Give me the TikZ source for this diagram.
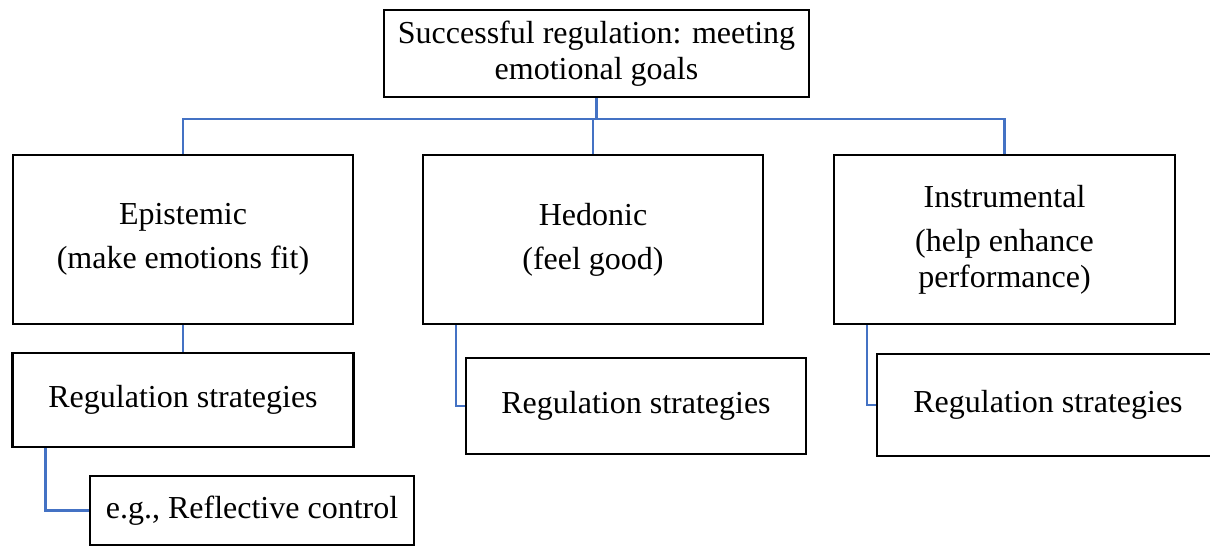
\documentclass[tikz,border=0pt]{standalone}
\usepackage{fontspec}
\setmainfont{Liberation Serif}
\definecolor{lineblue}{RGB}{68,114,196}
\begin{document}
\begin{tikzpicture}[x=1pt,y=-1pt,
  box/.style={draw=black, line width=2.4pt, inner sep=0pt, align=center,
    font=\fontsize{32}{36}\selectfont},
  link/.style={draw=lineblue, line width=2.4pt}]
\clip (0,0) rectangle (1210,546);
\node[box, minimum width=425pt, minimum height=87pt] (top) at (596.5,53.5)
  {Successful regulation: meeting\\emotional goals};
\node[box, minimum width=340pt, minimum height=169pt] (epi) at (183,239.5)
  {Epistemic\\[8pt](make emotions fit)};
\node[box, minimum width=340pt, minimum height=169pt] (hed) at (593,239.5)
  {Hedonic\\[8pt](feel good)};
\node[box, minimum width=341pt, minimum height=169pt] (ins) at (1004.5,239.5)
  {Instrumental\\[8pt](help enhance\\performance)};
\node[box, minimum width=341pt, minimum height=94pt] (reg1) at (183,400)
  {Regulation strategies};
\node[box, minimum width=324pt, minimum height=69pt] (eg) at (252,510.5)
  {e.g., Reflective control};
\node[box, minimum width=340pt, minimum height=96pt] (reg2) at (636,406)
  {Regulation strategies};
\node[box, minimum width=342pt, minimum height=102pt] (reg3) at (1048,405)
  {Regulation strategies};
\coordinate (hl) at (182,119);
\draw[link] (top.south) -- (top.south |- hl);
\draw[link] (epi.north) -- (epi.north |- hl) -- (ins.north |- hl) -- (ins.north);
\draw[link] (hed.north) -- (hed.north |- hl);
\draw[link] (epi.south) -- (reg1.north);
\draw[link] ([xshift=34pt]reg1.south west) |- (eg.west);
\draw[link] ([xshift=34pt]hed.south west) |- (reg2.west);
\draw[link] ([xshift=34pt]ins.south west) |- (reg3.west);
\end{tikzpicture}
\end{document}
